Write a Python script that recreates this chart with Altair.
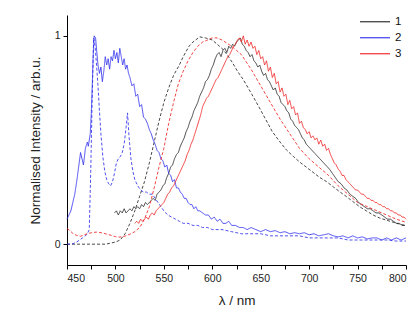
import altair as alt
import pandas as pd

# Emission spectra: wavelength (nm) and normalised intensity for samples 1-3,
# each measured twice (solid and dashed traces).

s1_solid_wl = [499, 501, 503, 505, 507, 509, 511, 513, 515, 517, 519, 521, 523, 525, 527, 529,
               531, 533, 535, 537, 539, 541, 543, 545, 547, 549, 551, 553, 555, 557, 559, 561,
               563, 565, 567, 569, 571, 573, 575, 577, 579, 581, 583, 585, 587, 589, 591, 593,
               595, 597, 599, 601, 603, 605, 607, 609, 611, 613, 615, 617, 619, 621, 623, 625,
               627, 629, 631, 633, 635, 637, 639, 641, 643, 645, 647, 649, 651, 653, 655, 657,
               659, 661, 663, 665, 667, 669, 671, 673, 675, 677, 679, 681, 683, 685, 687, 689,
               691, 693, 695, 697, 699, 701, 703, 705, 707, 709, 711, 713, 715, 717, 719, 721,
               724, 727, 730, 733, 736, 739, 742, 745, 748, 751, 754, 757, 760, 763, 766, 769,
               772, 775, 778, 781, 784, 787, 790, 793, 796, 799]
s1_solid_val = [0.15, 0.16, 0.14, 0.16, 0.15, 0.17, 0.15, 0.16, 0.17, 0.16, 0.18, 0.17, 0.18, 0.17, 0.19, 0.18,
                0.20, 0.19, 0.20, 0.21, 0.22, 0.21, 0.24, 0.25, 0.26, 0.28, 0.29, 0.32, 0.34, 0.37, 0.38, 0.41,
                0.43, 0.44, 0.47, 0.49, 0.51, 0.54, 0.56, 0.59, 0.61, 0.64, 0.66, 0.68, 0.71, 0.73, 0.75, 0.78,
                0.79, 0.81, 0.84, 0.86, 0.89, 0.91, 0.92, 0.90, 0.93, 0.94, 0.92, 0.95, 0.94, 0.96, 0.95, 0.97,
                0.98, 0.99, 0.96, 0.95, 0.93, 0.92, 0.90, 0.91, 0.88, 0.87, 0.85, 0.86, 0.83, 0.81, 0.82, 0.79,
                0.78, 0.76, 0.74, 0.75, 0.72, 0.71, 0.68, 0.67, 0.66, 0.64, 0.63, 0.60, 0.59, 0.57, 0.56, 0.55,
                0.53, 0.51, 0.50, 0.48, 0.47, 0.46, 0.45, 0.44, 0.43, 0.42, 0.41, 0.40, 0.39, 0.38, 0.37, 0.36,
                0.34, 0.32, 0.30, 0.29, 0.27, 0.26, 0.24, 0.23, 0.22, 0.20, 0.19, 0.18, 0.17, 0.17, 0.16, 0.15,
                0.15, 0.14, 0.13, 0.12, 0.12, 0.11, 0.10, 0.10, 0.09, 0.09]

s1_dash_wl = [450, 460, 470, 480, 490, 495, 500, 505, 510, 515, 520, 525, 530, 535, 540, 545,
              550, 555, 560, 566, 570, 576, 580, 587, 593, 600, 605, 611, 616, 621, 626, 632,
              637, 642, 648, 655, 662, 670, 677, 684, 690, 697, 704, 711, 718, 725, 732, 738,
              745, 752, 759, 766, 773, 780, 787, 794, 800]
s1_dash_val = [0.00, 0.00, 0.00, 0.00, 0.00, 0.005, 0.01, 0.02, 0.05, 0.10, 0.16, 0.23, 0.30, 0.39, 0.49, 0.59,
               0.68, 0.75, 0.81, 0.86, 0.90, 0.95, 0.97, 0.995, 0.99, 0.98, 0.96, 0.935, 0.905, 0.87, 0.83, 0.79,
               0.75, 0.71, 0.66, 0.60, 0.54, 0.49, 0.45, 0.42, 0.395, 0.37, 0.345, 0.32, 0.30, 0.275, 0.25, 0.23,
               0.205, 0.18, 0.16, 0.14, 0.125, 0.115, 0.105, 0.095, 0.09]

s2_solid_wl = [450, 452, 454, 456, 458, 460, 462, 464, 466, 467, 469, 471, 472, 474, 475, 476,
               477, 478, 479.5, 481, 482, 483.5, 485, 486.5, 488, 489.5, 491, 492.5, 494, 495.5, 497, 498.5,
               500, 501.5, 503, 504.5, 506, 507.5, 509, 510.5, 512, 513.5, 515, 517, 519, 521,
               523, 525, 527, 529, 531, 533, 535, 537, 539, 541, 543, 545, 547, 549, 551, 553,
               555, 557, 559, 561, 563, 565, 567, 569, 571, 573, 575, 577, 579, 581, 583, 585,
               587, 590, 593, 596, 599, 602, 605, 608, 611, 614, 617, 620, 624, 628, 632, 636,
               640, 645, 650, 655, 660, 665, 670, 675, 680, 685, 690, 695, 700, 705, 710, 715,
               720, 725, 730, 735, 740, 745, 750, 755, 760, 765, 770, 775, 780, 785, 790, 795, 800]
s2_solid_val = [0.12, 0.14, 0.16, 0.20, 0.24, 0.30, 0.37, 0.44, 0.40, 0.38, 0.46, 0.49, 0.47, 0.53, 0.62, 0.75,
                0.90, 1.00, 0.99, 0.91, 0.86, 0.82, 0.85, 0.78, 0.83, 0.90, 0.86, 0.89, 0.84, 0.90, 0.88, 0.93,
                0.89, 0.92, 0.87, 0.94, 0.90, 0.86, 0.89, 0.84, 0.86, 0.82, 0.80, 0.76, 0.77, 0.71,
                0.72, 0.66, 0.67, 0.61, 0.60, 0.58, 0.55, 0.53, 0.50, 0.48, 0.45, 0.44, 0.41, 0.40, 0.37, 0.38,
                0.34, 0.33, 0.30, 0.31, 0.27, 0.27, 0.25, 0.24, 0.22, 0.22, 0.20, 0.19, 0.19, 0.17, 0.18, 0.16,
                0.16, 0.15, 0.14, 0.14, 0.12, 0.13, 0.11, 0.12, 0.10, 0.10, 0.11, 0.09, 0.09, 0.08, 0.08, 0.07,
                0.08, 0.07, 0.06, 0.07, 0.06, 0.065, 0.055, 0.06, 0.05, 0.055, 0.05, 0.055, 0.045, 0.05, 0.04, 0.045,
                0.05, 0.04, 0.035, 0.04, 0.03, 0.04, 0.03, 0.035, 0.025, 0.03, 0.03, 0.02, 0.03, 0.02, 0.03, 0.02, 0.03]

s2_dash_wl = [450, 455, 460, 463, 466, 469, 471, 473, 474.5, 476, 477.5, 479, 480.5, 482, 483.5, 485,
              487, 489, 491, 493, 495, 497, 499, 501, 503, 505, 507, 509, 511, 512.5, 514, 516,
              518, 520, 523, 526, 529, 532, 535, 538, 541, 544, 547, 550, 554, 558, 562, 566,
              570, 575, 580, 585, 590, 595, 600, 610, 620, 630, 640, 650, 660, 670, 680, 690,
              700, 710, 720, 730, 740, 750, 760, 770, 780, 790, 800]
s2_dash_val = [0.00, 0.00, 0.01, 0.02, 0.03, 0.04, 0.05, 0.07, 0.35, 0.70, 0.99, 0.95, 0.86, 0.76, 0.64, 0.53,
               0.42, 0.35, 0.31, 0.29, 0.28, 0.30, 0.34, 0.39, 0.41, 0.42, 0.44, 0.48, 0.56, 0.63, 0.52, 0.41,
               0.35, 0.31, 0.28, 0.26, 0.25, 0.25, 0.24, 0.24, 0.22, 0.20, 0.18, 0.16, 0.14, 0.13, 0.12, 0.11,
               0.10, 0.10, 0.09, 0.09, 0.08, 0.08, 0.07, 0.07, 0.06, 0.05, 0.05, 0.05, 0.04, 0.04, 0.04, 0.04,
               0.03, 0.03, 0.03, 0.03, 0.02, 0.02, 0.02, 0.02, 0.02, 0.015, 0.015]

s3_solid_wl = list(range(520, 801, 2))
s3_solid_val = [0.10, 0.11, 0.10, 0.12, 0.11, 0.12, 0.13, 0.12, 0.14, 0.15, 0.14, 0.16, 0.17, 0.18, 0.19, 0.20,
                0.22, 0.24, 0.25, 0.27, 0.28, 0.30, 0.32, 0.34, 0.36, 0.38, 0.40, 0.43, 0.45, 0.48, 0.50, 0.53,
                0.56, 0.59, 0.62, 0.66, 0.68, 0.70, 0.71, 0.73, 0.75, 0.77, 0.79, 0.80, 0.82, 0.84, 0.86, 0.88,
                0.90, 0.91, 0.93, 0.95, 0.96, 0.98, 0.99, 0.97, 1.00, 0.96, 0.98, 0.95, 0.97, 0.94, 0.95, 0.91,
                0.93, 0.89, 0.90, 0.86, 0.88, 0.83, 0.85, 0.80, 0.82, 0.77, 0.78, 0.73, 0.75, 0.71, 0.72, 0.67,
                0.69, 0.65, 0.66, 0.62, 0.63, 0.58, 0.59, 0.56, 0.55, 0.53, 0.54, 0.51, 0.52, 0.50, 0.51, 0.48,
                0.50, 0.47, 0.48, 0.45, 0.46, 0.43, 0.41, 0.39, 0.38, 0.36, 0.35, 0.33, 0.33, 0.31, 0.30, 0.29,
                0.28, 0.27, 0.26, 0.26, 0.25, 0.24, 0.24, 0.23, 0.22, 0.22, 0.21, 0.21, 0.20, 0.20, 0.19, 0.19,
                0.18, 0.18, 0.17, 0.17, 0.16, 0.16, 0.15, 0.15, 0.14, 0.14, 0.13, 0.13, 0.12]

s3_dash_wl = [450, 453, 456, 460, 464, 468, 472, 476, 480, 484, 488, 492, 496, 500, 504, 508,
              512, 516, 520, 525, 530, 535, 540, 545, 550, 555, 560, 565, 570, 575, 580, 585,
              590, 595, 600, 605, 610, 615, 620, 625, 630, 640, 650, 660, 670, 680, 690, 700,
              710, 720, 730, 740, 750, 760, 770, 780, 790, 800]
s3_dash_val = [0.075, 0.065, 0.052, 0.042, 0.038, 0.045, 0.052, 0.055, 0.058, 0.056, 0.052, 0.047, 0.042, 0.036, 0.034, 0.036,
               0.042, 0.05, 0.06, 0.08, 0.12, 0.18, 0.27, 0.37, 0.46, 0.58, 0.68, 0.77, 0.83, 0.88, 0.92, 0.95,
               0.97, 0.98, 0.99, 0.99, 0.98, 0.965, 0.95, 0.93, 0.91, 0.84, 0.76, 0.68, 0.60, 0.53, 0.46, 0.41,
               0.37, 0.33, 0.28, 0.24, 0.20, 0.18, 0.16, 0.14, 0.12, 0.105]

series = [
    ("1", "solid", s1_solid_wl, s1_solid_val),
    ("1", "dashed", s1_dash_wl, s1_dash_val),
    ("2", "solid", s2_solid_wl, s2_solid_val),
    ("2", "dashed", s2_dash_wl, s2_dash_val),
    ("3", "solid", s3_solid_wl, s3_solid_val),
    ("3", "dashed", s3_dash_wl, s3_dash_val),
]

rows = []
for sample, kind, wl, val in series:
    for w, v in zip(wl, val):
        rows.append({"wl": w, "val": v, "sample": sample, "kind": kind,
                     "trace": f"{sample}-{kind}"})
df = pd.DataFrame(rows)

font = "Liberation Sans"

chart = alt.Chart(df).mark_line(strokeWidth=0.9, opacity=0.9).encode(
    x=alt.X("wl:Q", title="λ / nm",
            scale=alt.Scale(domain=[450, 800], nice=False, zero=False),
            axis=alt.Axis(values=list(range(450, 801, 25)),
                          labelExpr="datum.value % 50 == 0 ? datum.label : ''",
                          format="d", tickSize=4, labelPadding=4, titlePadding=10,
                          grid=False)),
    y=alt.Y("val:Q", title="Normalised Intensity / arb.u.",
            scale=alt.Scale(domain=[-0.1, 1.1], nice=False, zero=False),
            axis=alt.Axis(values=[0, 0.5, 1],
                          labelExpr="datum.value == 0.5 ? '' : datum.label",
                          format="d", tickSize=4, labelPadding=3, titlePadding=12,
                          grid=False)),
    color=alt.Color("sample:N", title=None,
                    scale=alt.Scale(domain=["1", "2", "3"],
                                    range=["#1e1e1e", "#2828ee", "#f01818"]),
                    legend=alt.Legend(orient="none", legendX=292, legendY=0,
                                      symbolType="stroke", symbolSize=900,
                                      symbolStrokeWidth=1.2, labelFontSize=11.5,
                                      labelFont=font, labelColor="#111",
                                      clipHeight=13.5, rowPadding=2, labelOffset=4)),
    strokeDash=alt.StrokeDash("kind:N",
                              scale=alt.Scale(domain=["solid", "dashed"],
                                              range=[[1, 0], [3, 2]]),
                              legend=None),
    detail="trace:N",
).properties(
    width=339,
    height=250,
    autosize=alt.AutoSizeParams(type="none"),
    padding={"left": 67, "top": 15, "right": 7, "bottom": 45},
).configure_view(
    stroke=None
).configure_axis(
    domainColor="#000", tickColor="#000", domainWidth=1, tickWidth=1,
    labelFont=font, titleFont=font, labelFontSize=10.5, titleFontSize=13.5,
    labelColor="#222", titleColor="#222", titleFontWeight="normal",
)

chart.save("out.html", embed_options={"renderer": "svg", "actions": False})
